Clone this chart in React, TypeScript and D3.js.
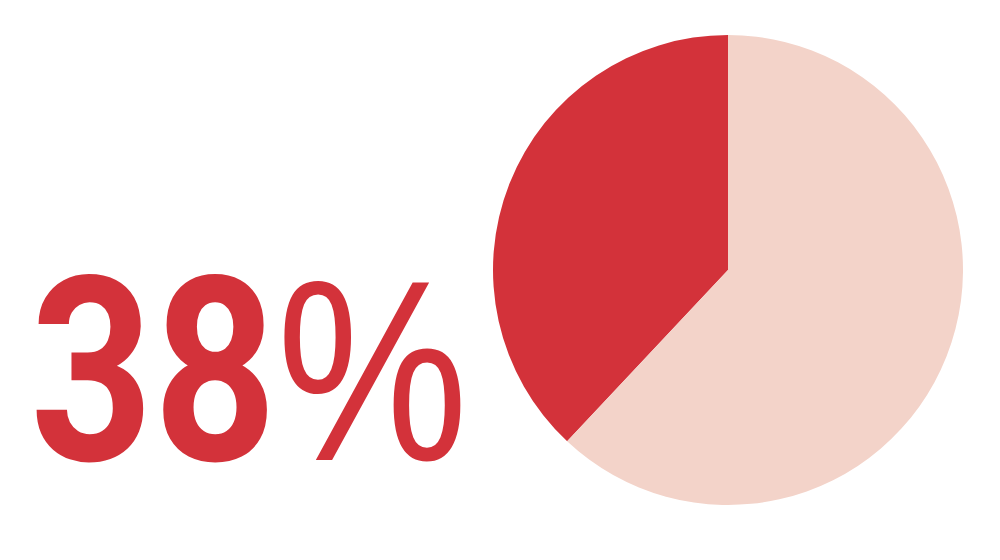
import { useEffect, useRef } from "react";
import * as d3 from "d3";

const categories = ["share", "rest"];
const values = [38, 62];
const colors = ["#d3323a", "#f3d3c9"];
const labelNumber = "38";
const labelUnit = "%";

const App = () => {
  const ref = useRef<SVGSVGElement>(null);

  useEffect(() => {
    const width = 1000;
    const height = 560;
    const cx = 728;
    const cy = 270;
    const radius = 235;

    const svg = d3.select(ref.current);
    svg.selectAll("*").remove();

    const data = categories.map((c, i) => ({ key: c, value: values[i] }));
    const total = d3.sum(values);
    // the highlighted slice ends at 12 o'clock, so start it counterclockwise
    const start = -(values[0] / total) * 2 * Math.PI;

    const pie = d3
      .pie<{ key: string; value: number }>()
      .sort(null)
      .value((d) => d.value)
      .startAngle(start)
      .endAngle(start + 2 * Math.PI);

    const arc = d3
      .arc<d3.PieArcDatum<{ key: string; value: number }>>()
      .innerRadius(0)
      .outerRadius(radius);

    const color = d3.scaleOrdinal<string>().domain(categories).range(colors);

    svg
      .append("g")
      .attr("transform", `translate(${cx},${cy})`)
      .selectAll("path")
      .data(pie(data))
      .enter()
      .append("path")
      .attr("d", arc)
      .attr("fill", (d) => color(d.data.key));

    const text = svg
      .append("text")
      .attr("x", 30)
      .attr("y", 460)
      .attr("font-size", 258)
      .attr("fill", colors[0])
      .attr("textLength", 438)
      .attr("lengthAdjust", "spacingAndGlyphs");

    text
      .append("tspan")
      .attr("font-family", "Roboto, sans-serif")
      .attr("font-weight", "bold")
      .text(labelNumber);

    text
      .append("tspan")
      .attr("font-family", "'Liberation Sans', Arial, sans-serif")
      .attr("font-weight", "normal")
      .text(labelUnit);

    svg.attr("width", width).attr("height", height);
  }, []);

  return (
    <svg
      ref={ref}
      width={1000}
      height={560}
      style={{ position: "absolute", left: 0, top: 0, background: "#fff" }}
    />
  );
};

export default App;
